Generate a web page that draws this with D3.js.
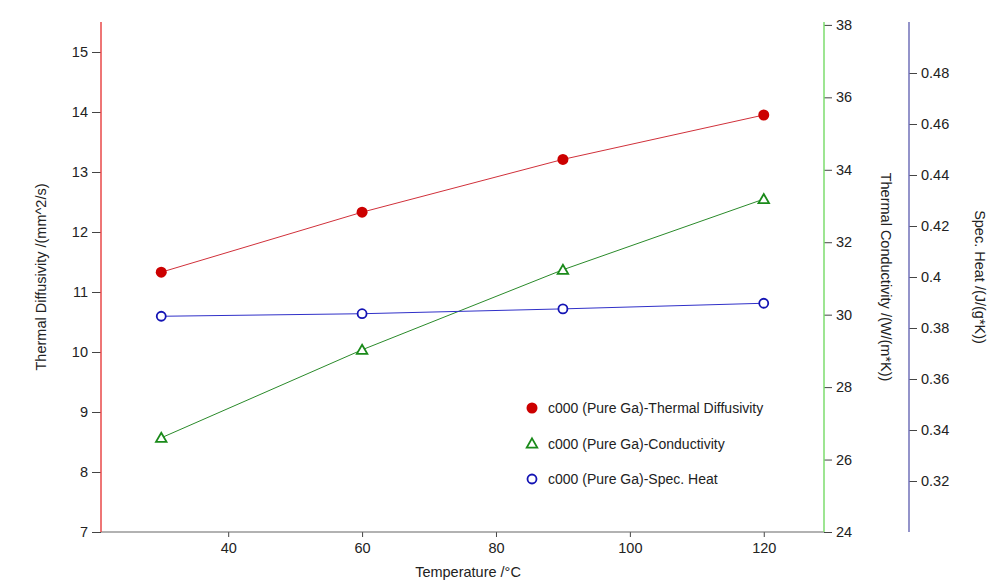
<!DOCTYPE html>
<html>
<head>
<meta charset="utf-8">
<script src="https://cdn.jsdelivr.net/npm/d3@7"></script>
<style>
  body { margin: 0; background: #fff; }
  text { font-family: "Liberation Sans", Arial, sans-serif; }
</style>
</head>
<body>
<svg id="chart" width="997" height="582"></svg>
<script>
// data
var temps = [30, 60, 90, 120];
var diffusivity = [11.33, 12.33, 13.21, 13.95];
var conductivity = [26.6, 29.03, 31.24, 33.19];
var specHeat = [0.3846, 0.3856, 0.3875, 0.3897];
var diffTicks = [7, 8, 9, 10, 11, 12, 13, 14, 15];
var condTicks = [24, 26, 28, 30, 32, 34, 36, 38];
var heatTicks = [0.32, 0.34, 0.36, 0.38, 0.40, 0.42, 0.44, 0.46, 0.48];
var tempTicks = [40, 60, 80, 100, 120];
var legendLabels = ["c000 (Pure Ga)-Thermal Diffusivity", "c000 (Pure Ga)-Conductivity", "c000 (Pure Ga)-Spec. Heat"];

svg = d3.select("#chart");

x = d3.scaleLinear().domain([21, 129]).range([101, 824]);
yDiff = d3.scaleLinear().domain([7, 15.5]).range([532, 22]);
yCond = d3.scaleLinear().domain([24, 38.08]).range([532, 22]);
yHeat = d3.scaleLinear().domain([0.30, 0.50]).range([532, 22]);

function styleAxis(g, lineColor) {
     g.select(".domain").remove();
     g.selectAll(".tick line").attr("stroke", "#444");
     g.selectAll(".tick text").attr("font-size", "14.5px").attr("fill", "#222");
     g.append("line")
          .attr("x1", 0).attr("x2", 0)
          .attr("y1", 22).attr("y2", 532)
          .attr("stroke", lineColor).attr("stroke-width", 1.5);
}

// x axis
gx = svg.append("g").attr("transform", "translate(0,532)")
     .call(d3.axisBottom(x).tickValues(tempTicks).tickSize(5).tickPadding(6));
gx.select(".domain").remove();
gx.selectAll(".tick line").attr("stroke", "#444");
gx.selectAll(".tick text").attr("font-size", "14.5px").attr("fill", "#222");
svg.append("line").attr("x1", 101).attr("x2", 824).attr("y1", 532).attr("y2", 532)
     .attr("stroke", "#666").attr("stroke-width", 1.2);

// left axis
gl = svg.append("g").attr("transform", "translate(101,0)")
     .call(d3.axisLeft(yDiff).tickValues(diffTicks).tickSize(9).tickPadding(4));
styleAxis(gl, "#e84848");

// conductivity axis
gc = svg.append("g").attr("transform", "translate(824,0)")
     .call(d3.axisRight(yCond).tickValues(condTicks).tickSize(8).tickPadding(4));
styleAxis(gc, "#7ddc6e");

// spec heat axis
gh = svg.append("g").attr("transform", "translate(909,0)")
     .call(d3.axisRight(yHeat).tickValues(heatTicks).tickSize(8).tickPadding(4)
          .tickFormat(function(d){ return d3.format("")(+d.toFixed(2)); }));
styleAxis(gh, "#7070b8");

// axis titles
svg.append("text").text("Temperature /°C")
     .attr("x", 468).attr("y", 577).attr("text-anchor", "middle")
     .attr("font-size", "14.5px").attr("fill", "#222");
svg.append("text").text("Thermal Diffusivity /(mm^2/s)")
     .attr("transform", "translate(46,277) rotate(-90)").attr("text-anchor", "middle")
     .attr("font-size", "14.5px").attr("fill", "#222");
svg.append("text").text("Thermal Conductivity /(W/(m*K))")
     .attr("transform", "translate(881,277) rotate(90)").attr("text-anchor", "middle")
     .attr("font-size", "14.5px").attr("fill", "#222");
svg.append("text").text("Spec. Heat /(J/(g*K))")
     .attr("transform", "translate(975,277) rotate(90)").attr("text-anchor", "middle")
     .attr("font-size", "14.5px").attr("fill", "#222");

series = [
     {vals: diffusivity, y: yDiff, line: "#d0303a", mark: "#cc0000", kind: "dot"},
     {vals: conductivity, y: yCond, line: "#2a8a2a", mark: "#1a8a1a", kind: "tri"},
     {vals: specHeat, y: yHeat, line: "#3030c8", mark: "#1414b4", kind: "ring"}
];

var tri = d3.symbol().type(d3.symbolTriangle).size(48);

function drawMark(g, s, cx, cy) {
     if (s.kind == "dot") {
          g.append("circle").attr("cx", cx).attr("cy", cy).attr("r", 5.5).attr("fill", s.mark);
     } else if (s.kind == "tri") {
          g.append("path").attr("d", tri).attr("transform", "translate(" + cx + "," + (cy + 1) + ")")
               .attr("fill", "white").attr("stroke", s.mark).attr("stroke-width", 1.8);
     } else {
          g.append("circle").attr("cx", cx).attr("cy", cy).attr("r", 4.5)
               .attr("fill", "white").attr("stroke", s.mark).attr("stroke-width", 1.8);
     }
}

series.forEach(function(s, i){
     line = d3.line().x(function(d, j){ return x(temps[j]); }).y(function(d){ return s.y(d); });
     svg.append("path").datum(s.vals).attr("d", line)
          .attr("fill", "none").attr("stroke", s.line).attr("stroke-width", 1);
     g = svg.append("g");
     s.vals.forEach(function(v, j){ drawMark(g, s, x(temps[j]), s.y(v)); });

     // legend
     lg = svg.append("g");
     drawMark(lg, s, 532, 408 + 35.5 * i);
     lg.append("text").text(legendLabels[i])
          .attr("x", 548).attr("y", 413 + 35.5 * i)
          .attr("font-size", "14px").attr("fill", "#222");
});
</script>
</body>
</html>
